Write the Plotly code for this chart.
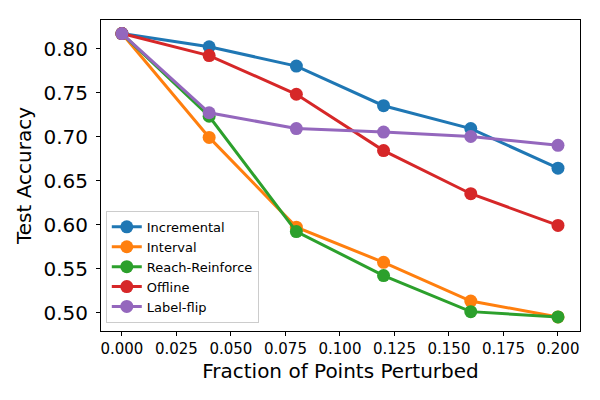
import plotly.graph_objects as go

fractions = [0.0, 0.04, 0.08, 0.12, 0.16, 0.20]

incremental = [0.817, 0.802, 0.780, 0.735, 0.709, 0.664]
interval = [0.817, 0.699, 0.597, 0.557, 0.513, 0.495]
reach_reinforce = [0.817, 0.723, 0.592, 0.542, 0.501, 0.495]
offline = [0.817, 0.792, 0.748, 0.684, 0.635, 0.599]
label_flip = [0.817, 0.727, 0.709, 0.705, 0.700, 0.690]

series = [
    ("Incremental", incremental, "#1f77b4"),
    ("Interval", interval, "#ff7f0e"),
    ("Reach-Reinforce", reach_reinforce, "#2ca02c"),
    ("Offline", offline, "#d62728"),
    ("Label-flip", label_flip, "#9467bd"),
]

fig = go.Figure()
for name, vals, col in series:
    fig.add_trace(go.Scatter(
        x=fractions, y=vals, name=name, mode="lines+markers",
        line=dict(color=col, width=3),
        marker=dict(color=col, size=13),
    ))

# page body has an 8px margin, so the figure is offset by 8px
fig.update_layout(
    width=600, height=400,
    margin=dict(l=93, r=28, t=12, b=77),
    plot_bgcolor="white", paper_bgcolor="white",
    font=dict(family="DejaVu Sans", color="black"),
    legend=dict(
        x=0.01, y=0.026, xanchor="left", yanchor="bottom",
        bgcolor="rgba(255,255,255,0.8)", bordercolor="#cccccc", borderwidth=1,
        font=dict(size=13), tracegroupgap=0, itemwidth=30,
    ),
)
fig.update_xaxes(
    range=[-0.0096, 0.2101], tickvals=[0, 0.025, 0.05, 0.075, 0.1, 0.125, 0.15, 0.175, 0.2],
    tickformat=".3f", tickfont=dict(size=15), automargin=False,
    showgrid=False, zeroline=False, showline=True, linecolor="black", linewidth=1,
    mirror=True, ticks="outside", ticklen=4, tickcolor="black",
    title=dict(text="Fraction of Points Perturbed", font=dict(size=20), standoff=6),
)
fig.update_yaxes(
    range=[0.479, 0.8324], tickvals=[0.5, 0.55, 0.6, 0.65, 0.7, 0.75, 0.8],
    tickformat=".2f", tickfont=dict(size=20), automargin=False, ticklabelstandoff=4,
    showgrid=False, zeroline=False, showline=True, linecolor="black", linewidth=1,
    mirror=True, ticks="outside", ticklen=4, tickcolor="black",
    title=dict(text="Test Accuracy", font=dict(size=20), standoff=6),
)

fig.write_html("out.html")
